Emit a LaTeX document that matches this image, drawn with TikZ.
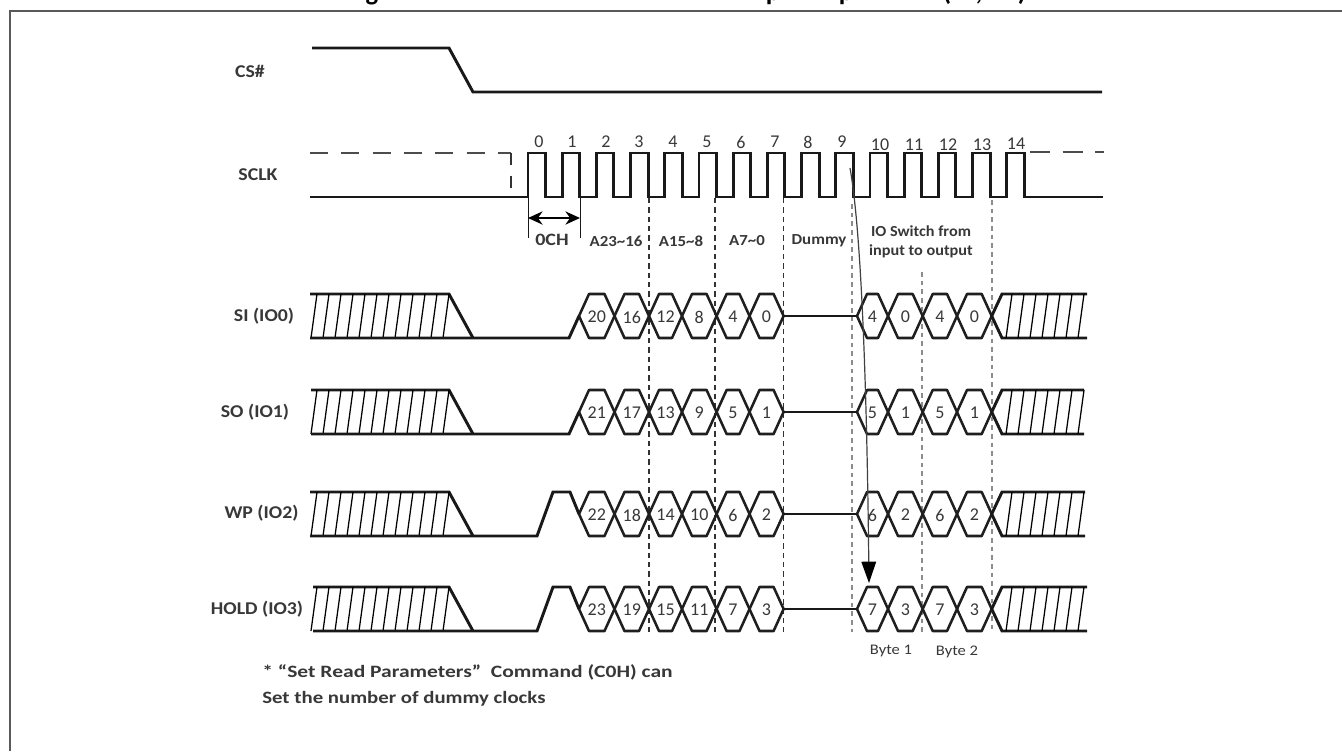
\documentclass[tikz,border=0pt]{standalone}
\usepackage{fontspec}
\setmainfont{Carlito}
\usetikzlibrary{arrows.meta}
\definecolor{frameC}{gray}{0.35}
\definecolor{txtC}{gray}{0.22}
\tikzset{
  x=0.75pt,y=-0.75pt,
  frameline/.style={draw=frameC,line width=2.2pt},
  sig/.style={draw=black!90,line width=2.2pt,line join=miter},
  thinsig/.style={draw=black!90,line width=1.1pt},
  bus/.style={draw=black!88,line width=1.9pt,line join=round},
  hatch/.style={draw=black,line width=0.95pt},
  darkdash/.style={draw=black!80,line width=0.8pt,dash pattern=on 4pt off 3pt},
  lightdash/.style={draw=black!45,line width=1.5pt,dash pattern=on 3.5pt off 3pt},
  topdash/.style={draw=black!70,line width=2.2pt},
  siglabel/.style={font=\fontsize{13.5pt}{15pt}\bfseries,text=txtC,inner sep=0pt,xscale=1.1},
  numlabel/.style={font=\fontsize{13.5pt}{15pt}\selectfont,text=txtC,inner sep=0pt},
  seclabel/.style={font=\fontsize{11.5pt}{13pt}\bfseries,text=txtC,inner sep=0pt,xscale=1.1},
  switchlabel/.style={font=\fontsize{11.5pt}{13pt}\bfseries,text=txtC,inner sep=0pt,xscale=1.06},
  bytelabel/.style={font=\fontsize{11pt}{13pt}\selectfont,text=txtC,inner sep=0pt,xscale=1.13},
  notelabel/.style={font=\fontsize{13pt}{15pt}\bfseries,text=txtC,inner sep=0pt,anchor=base west,xscale=1.2},
  titlebit/.style={font=\fontsize{20pt}{22pt}\bfseries,inner sep=0pt,anchor=base},
}
% #1 mid y, #2 left x, #3 right x, #4 row index, #5 name
\newcommand\busrow[5]{%
  % hatched input
  \coordinate (#5a) at (#2,#1-22);
  \coordinate (#5b) at (449,#1-22);
  \coordinate (#5c) at (473,#1+22);
  \coordinate (#5d) at (#2,#1+22);
  \draw[sig] (#5a) -- (#5b) -- (#5c);
  \foreach \k in {0,...,11}{
    \draw[hatch] ({311+12*\k},#1+22) -- ({317+12*\k},#1-22);
  }
  % input hexes
  \foreach \p/\q/\n in {579/614.5/20,614.5/649/16,649/682/12,682/716.6/8,716.6/749.5/4,749.5/783.6/0}{
    \pgfmathtruncatemacro\t{\n+#4}
    \draw[bus] (\p,#1) -- (\p+10,#1-22) -- (\q-10,#1-22) -- (\q,#1) -- (\q-10,#1+22) -- (\p+10,#1+22) -- cycle;
    \node[numlabel] (#5n\n) at ({(\p+\q)/2},#1+1) {\t};
  }
  % output hexes
  \foreach \p/\q/\n/\m in {857/888/4/a,888/922.7/0/b,922.7/957/4/c,957/991.7/0/d}{
    \pgfmathtruncatemacro\t{\n+#4}
    \draw[bus] (\p,#1) -- (\p+10,#1-22) -- (\q-10,#1-22) -- (\q,#1) -- (\q-10,#1+22) -- (\p+10,#1+22) -- cycle;
    \node[numlabel] (#5o\m) at ({(\p+\q)/2},#1+1) {\t};
  }
  % dummy line
  \coordinate (#5e) at (783.6,#1);
  \coordinate (#5f) at (857,#1);
  \draw[sig] (#5e) -- (#5f);
  % hatched output
  \coordinate (#5g) at (991.7,#1);
  \coordinate (#5h) at (1002,#1-22);
  \coordinate (#5i) at (#3,#1-22);
  \coordinate (#5j) at (1002,#1+22);
  \coordinate (#5k) at (#3,#1+22);
  \draw[sig] (#5g) -- (#5h) -- (#5i);
  \draw[sig] (#5g) -- (#5j) -- (#5k);
  \foreach \k in {0,...,6}{
    \draw[hatch] ({1006+12*\k},#1+22) -- ({1012+12*\k},#1-22);
  }
}
\begin{document}
\begin{tikzpicture}
\useasboundingbox (0,0) rectangle (1342,751);
% clipped title remnants
\node[titlebit] (tg) at (372,0) {g};
\node[titlebit] (tp1) at (773,0) {p};
\node[titlebit] (tp2) at (846,0) {p};
\node[titlebit] (tl) at (947,0) {(};
\node[titlebit] (tc) at (979,0) {,};
\node[titlebit] (tr) at (1022,0) {)};
% frame
\coordinate (fa) at (10,751);
\coordinate (fb) at (10,11);
\coordinate (fc) at (1342,11);
\draw[frameline] (fa) -- (fb) -- (fc);
% CS#
\coordinate (cs1) at (312,48);
\coordinate (cs2) at (449,48);
\coordinate (cs3) at (473,92);
\coordinate (cs4) at (1102,92);
\draw[sig] (cs1) -- (cs2) -- (cs3) -- (cs4);
\node[siglabel] (lcs) at (250,71) {CS\#};
% SCLK
\node[siglabel] (lsclk) at (258,175) {SCLK};
\coordinate (sk0) at (310,197);
\coordinate (sk1) at (1103,197);
\draw[sig] (sk0) -- (528,197)
  \foreach \k in {0,...,14}{ -- ({528+34.2*\k},153) -- ({545.5+34.2*\k},153) -- ({545.5+34.2*\k},197) -- ({562.2+34.2*\k},197) }
  -- (sk1);
\coordinate (da) at (310,153);
\coordinate (db) at (511,153);
\coordinate (dc) at (511,197);
\draw[topdash,dash pattern=on 13.5pt off 10pt] (da) -- (db);
\draw[draw=black!80,line width=1pt,dash pattern=on 9pt off 8pt] (db) -- (dc);
\coordinate (dd) at (1030,152);
\coordinate (de) at (1104,152);
\draw[topdash,dash pattern=on 15pt off 9.5pt] (dd) -- (de);
% clock numbers
\foreach \x/\y/\n in {539/142/0,572/142/1,606/142/2,639/142/3,673/142/4,707/142/5,741/142/6,775/142/7,808/142/8,842/142/9,880/145/10,914/145/11,948/145/12,982/145/13,1016/144/14}{
  \node[numlabel] (c\n) at (\x,\y) {\n};
}
% 0CH
\coordinate (oa) at (528,198);
\coordinate (ob) at (528,238);
\coordinate (oc) at (580,198);
\coordinate (od) at (580,238);
\draw[thinsig,line width=0.7pt] (oa) -- (ob);
\draw[thinsig,line width=0.7pt] (oc) -- (od);
\coordinate (oe) at (528,218);
\coordinate (of) at (580,218);
\draw[draw=black,line width=1pt,{Stealth[length=11pt,width=10pt]}-{Stealth[length=11pt,width=10pt]}] (oe) -- (of);
\node[seclabel,font=\fontsize{13pt}{15pt}\bfseries,xscale=1.05] (l0ch) at (552,240) {0CH};
% dashed verticals
\foreach \x/\a/\i in {649/198/1,715/198/2,783.6/198/3}{
  \coordinate (va\i) at (\x,\a);
  \coordinate (vb\i) at (\x,632);
  \draw[darkdash] (va\i) -- (vb\i);
}
\foreach \x/\a/\i in {852/204/4,922/272/5,992/200/6}{
  \coordinate (va\i) at (\x,\a);
  \coordinate (vb\i) at (\x,632);
  \draw[lightdash] (va\i) -- (vb\i);
}
\node[seclabel] (l1) at (616,241) {A23\textasciitilde 16};
\node[seclabel] (l2) at (681,241) {A15\textasciitilde 8};
\node[seclabel] (l3) at (747,241) {A7\textasciitilde 0};
\node[seclabel] (l4) at (819,241) {Dummy};
\node[switchlabel] (l5a) at (921,231) {IO Switch from};
\node[switchlabel] (l5b) at (921,251) {input to output};
% rows
\busrow{316}{310}{1087}{0}{r0}
\draw[sig] (r0d) -- (569,338) -- (579,316);
\busrow{412}{311}{1084}{1}{r1}
\draw[sig] (r1d) -- (569,434) -- (579,412);
\busrow{514}{310}{1085}{2}{r2}
\draw[sig] (r2d) -- (537,536) -- (553,492) -- (570,492) -- (579,514);
\busrow{609}{313}{1087}{3}{r3}
\draw[sig] (r3d) -- (537,631) -- (553,587) -- (570,587) -- (579,609);
\node[siglabel] (lsi) at (264,316) {SI (IO0)};
\node[siglabel] (lso) at (255,412) {SO (IO1)};
\node[siglabel] (lwp) at (261.5,513) {WP (IO2)};
\node[siglabel] (lho) at (257,609) {HOLD (IO3)};
% curved arrow
\coordinate (ca) at (850,168);
\coordinate (cb) at (869,583);
\draw[draw=black!75,line width=0.9pt,-{Triangle[length=16pt,width=11pt,color=black]}] (ca) .. controls (862,235) and (867,400) .. (cb);
% bytes
\node[bytelabel] (b1) at (891,651) {Byte 1};
\node[bytelabel] (b2) at (957,652) {Byte 2};
% note
\node[notelabel,xscale=1.035] (n1) at (262,677.5) {* “Set Read Parameters” \ Command (C0H) can};
\node[notelabel] (n2) at (262,703.5) {Set the number of dummy clocks};
\end{tikzpicture}
\end{document}
